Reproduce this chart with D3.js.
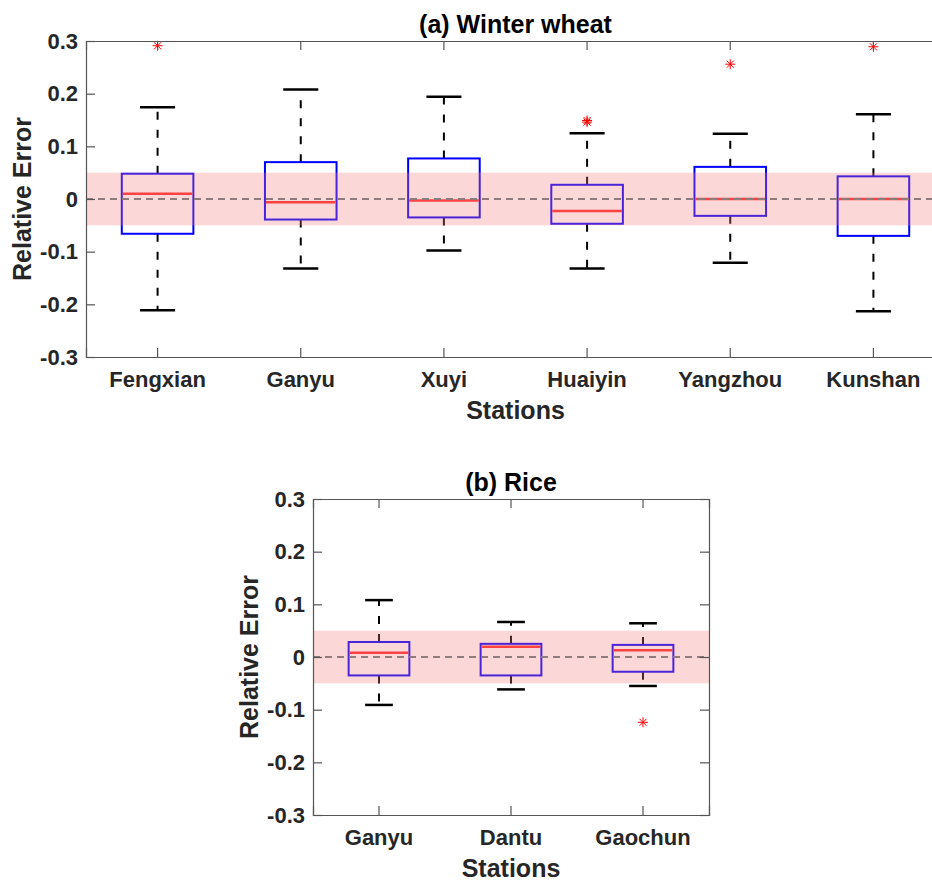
<!DOCTYPE html>
<html>
<head>
<meta charset="utf-8">
<script src="https://cdn.jsdelivr.net/npm/d3@7"></script>
<style>
  body { margin: 0; background: #fff; overflow: hidden; }
  svg { display: block; font-family: "Liberation Sans", Arial, sans-serif; font-weight: bold; }
</style>
</head>
<body>
<div id="chart"></div>
<script>
// ---- data ----
const yTicks = [-0.3, -0.2, -0.1, 0, 0.1, 0.2, 0.3];
const toleranceBand = [-0.05, 0.05];

const wheatStations = ["Fengxian", "Ganyu", "Xuyi", "Huaiyin", "Yangzhou", "Kunshan"];
const wheatLower = [-0.211, -0.132, -0.098, -0.132, -0.121, -0.213];
const wheatQ1 = [-0.066, -0.039, -0.035, -0.047, -0.032, -0.070];
const wheatMedian = [0.010, -0.006, -0.003, -0.023, 0.000, 0.000];
const wheatQ3 = [0.048, 0.070, 0.077, 0.027, 0.061, 0.043];
const wheatUpper = [0.174, 0.208, 0.194, 0.125, 0.124, 0.161];
const wheatOutliers = [[0.291], [], [], [0.146, 0.149], [0.256], [0.289]];

const riceStations = ["Ganyu", "Dantu", "Gaochun"];
const riceLower = [-0.091, -0.0615, -0.055];
const riceQ1 = [-0.035, -0.035, -0.028];
const riceMedian = [0.008, 0.0196, 0.0127];
const riceQ3 = [0.0285, 0.025, 0.023];
const riceUpper = [0.108, 0.0665, 0.064];
const riceOutliers = [[], [], [-0.124]];

const width = 932;
const height = 882;

const svg = d3
  .select("#chart")
  .append("svg")
  .attr("width", width)
  .attr("height", height);

const axisColor = "#555";
const textColor = "#262626";

function drawPanel(opt) {
  const g = svg.append("g");

  const x = d3
    .scaleBand()
    .domain(opt.stations)
    .range([opt.left, opt.right]);
  const y = d3.scaleLinear().domain([-0.3, 0.3]).range([opt.bottom, opt.top]);
  const cx = (d) => x(d) + x.bandwidth() / 2;
  const boxW = x.bandwidth() * opt.boxFrac;
  const capW = x.bandwidth() * opt.capFrac;

  const rows = opt.stations.map((s, i) => ({
    station: s,
    lo: opt.lower[i],
    q1: opt.q1[i],
    med: opt.median[i],
    q3: opt.q3[i],
    hi: opt.upper[i],
    out: opt.outliers[i],
  }));

  const box = g.selectAll(".box").data(rows).enter().append("g").attr("class", "box");

  // dashed whiskers
  box
    .append("line")
    .attr("x1", (d) => cx(d.station))
    .attr("x2", (d) => cx(d.station))
    .attr("y1", (d) => y(d.q3))
    .attr("y2", (d) => y(d.hi))
    .attr("stroke", "#000")
    .attr("stroke-width", 2)
    .attr("stroke-dasharray", "8,10");
  box
    .append("line")
    .attr("x1", (d) => cx(d.station))
    .attr("x2", (d) => cx(d.station))
    .attr("y1", (d) => y(d.q1))
    .attr("y2", (d) => y(d.lo))
    .attr("stroke", "#000")
    .attr("stroke-width", 2)
    .attr("stroke-dasharray", "8,10");

  // whisker caps
  ["hi", "lo"].forEach((k) => {
    box
      .append("line")
      .attr("x1", (d) => cx(d.station) - capW / 2)
      .attr("x2", (d) => cx(d.station) + capW / 2)
      .attr("y1", (d) => y(d[k]))
      .attr("y2", (d) => y(d[k]))
      .attr("stroke", "#000")
      .attr("stroke-width", 2.5);
  });

  // boxes
  box
    .append("rect")
    .attr("x", (d) => cx(d.station) - boxW / 2)
    .attr("y", (d) => y(d.q3))
    .attr("width", boxW)
    .attr("height", (d) => y(d.q1) - y(d.q3))
    .attr("fill", "none")
    .attr("stroke", "#0000ff")
    .attr("stroke-width", 2);

  // medians
  box
    .append("line")
    .attr("x1", (d) => cx(d.station) - boxW / 2 + 1)
    .attr("x2", (d) => cx(d.station) + boxW / 2 - 1)
    .attr("y1", (d) => y(d.med))
    .attr("y2", (d) => y(d.med))
    .attr("stroke", "#ff2a2a")
    .attr("stroke-width", 2.5);

  // outliers as asterisks
  const r = 5;
  const a = 3.5;
  const star = `M0,${-r}V${r}M${-r},0H${r}M${-a},${-a}L${a},${a}M${-a},${a}L${a},${-a}`;
  box
    .selectAll(".outlier")
    .data((d) => d.out.map((v) => ({ station: d.station, v })))
    .enter()
    .append("path")
    .attr("class", "outlier")
    .attr("d", star)
    .attr("transform", (d) => `translate(${cx(d.station)},${y(d.v)})`)
    .attr("fill", "none")
    .attr("stroke", "#ff0000")
    .attr("stroke-width", 1);

  // translucent tolerance band on top
  g.append("rect")
    .attr("x", opt.left)
    .attr("width", opt.right - opt.left)
    .attr("y", y(toleranceBand[1]))
    .attr("height", y(toleranceBand[0]) - y(toleranceBand[1]))
    .attr("fill", "#f47c7c")
    .attr("opacity", 0.3);

  // zero reference line
  g.append("line")
    .attr("x1", opt.left)
    .attr("x2", opt.right)
    .attr("y1", y(0))
    .attr("y2", y(0))
    .attr("stroke", "#8f7b7b")
    .attr("stroke-width", 1.8)
    .attr("stroke-dasharray", "7,5");

  // axes
  const fmt = (d) => (d === 0 ? "0" : d.toFixed(1));
  const left = g
    .append("g")
    .attr("transform", `translate(${opt.left},0)`)
    .call(d3.axisLeft(y).tickValues(yTicks).tickFormat(fmt).tickSize(-9).tickPadding(8));
  const right = g
    .append("g")
    .attr("transform", `translate(${opt.right},0)`)
    .call(d3.axisRight(y).tickValues(yTicks).tickFormat("").tickSize(-9));
  const bottom = g
    .append("g")
    .attr("transform", `translate(0,${opt.bottom})`)
    .call(d3.axisBottom(x).tickSize(-9).tickPadding(14));
  const top = g
    .append("g")
    .attr("transform", `translate(0,${opt.top})`)
    .call(d3.axisTop(x).tickFormat("").tickSize(-9));

  [left, right, bottom, top].forEach((ax) => {
    ax.select(".domain").attr("stroke", axisColor).attr("stroke-width", 1.2);
    ax.selectAll(".tick line").attr("stroke", axisColor).attr("stroke-width", 1.2);
    ax.selectAll(".tick text")
      .attr("fill", textColor)
      .style("font-size", "22px")
      .style("font-family", '"Liberation Sans", Arial, sans-serif')
      .style("font-weight", "bold");
  });

  // title
  g.append("text")
    .attr("x", (opt.left + opt.right) / 2)
    .attr("y", opt.top - 8)
    .attr("text-anchor", "middle")
    .attr("fill", "#000")
    .style("font-size", "25px")
    .text(opt.title);

  // axis labels
  g.append("text")
    .attr("x", (opt.left + opt.right) / 2)
    .attr("y", opt.bottom + 62)
    .attr("text-anchor", "middle")
    .attr("fill", textColor)
    .style("font-size", "25px")
    .text("Stations");

  g.append("text")
    .attr("transform", `translate(${opt.left - 55},${(opt.top + opt.bottom) / 2}) rotate(-90)`)
    .attr("text-anchor", "middle")
    .attr("fill", textColor)
    .style("font-size", "25px")
    .text("Relative Error");
}

drawPanel({
  title: "(a) Winter wheat",
  stations: wheatStations,
  lower: wheatLower,
  q1: wheatQ1,
  median: wheatMedian,
  q3: wheatQ3,
  upper: wheatUpper,
  outliers: wheatOutliers,
  left: 86,
  right: 945,
  top: 41,
  bottom: 357,
  boxFrac: 0.5,
  capFrac: 0.245,
});

drawPanel({
  title: "(b) Rice",
  stations: riceStations,
  lower: riceLower,
  q1: riceQ1,
  median: riceMedian,
  q3: riceQ3,
  upper: riceUpper,
  outliers: riceOutliers,
  left: 313,
  right: 709,
  top: 499,
  bottom: 815,
  boxFrac: 0.46,
  capFrac: 0.21,
});
</script>
</body>
</html>
